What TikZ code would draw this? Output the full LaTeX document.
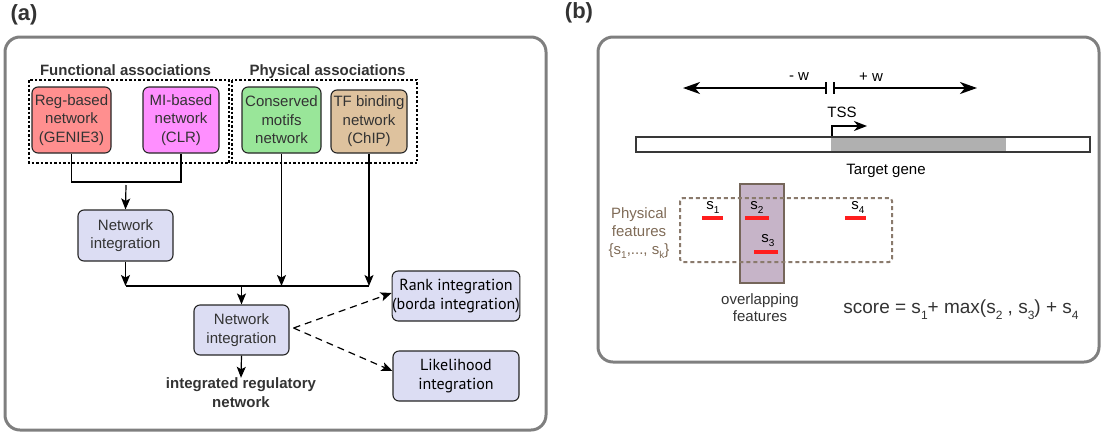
\documentclass[tikz,border=0pt]{standalone}
\usepackage{fontspec}
\setmainfont{Liberation Sans}
\newfontfamily\myr{PT Sans}
\usetikzlibrary{arrows.meta,calc}
\definecolor{panelgray}{HTML}{7F7F7F}
\definecolor{regred}{HTML}{FF8F8F}
\definecolor{mimag}{HTML}{FF8FFF}
\definecolor{consgreen}{HTML}{99E699}
\definecolor{tftan}{HTML}{DEC29E}
\definecolor{lav}{HTML}{DCDDF3}
\definecolor{txtdark}{HTML}{333333}
\definecolor{brownish}{HTML}{7F6B57}
\definecolor{dashbrown}{HTML}{8A7A6C}
\definecolor{purp}{HTML}{C6B4C8}
\definecolor{purpedge}{HTML}{75665A}
\definecolor{genegray}{HTML}{B0B0B0}
\definecolor{barred}{HTML}{FF1E1E}
\newcommand\lsub[1]{\raisebox{-4pt}{\fontsize{10}{10}\selectfont #1}}
\newcommand\bsub[1]{\raisebox{-6pt}{\fontsize{12}{12}\selectfont #1}}
\begin{document}
\begin{tikzpicture}[x=1pt,y=-1pt,
  panel/.style={draw=panelgray, line width=3pt, rounded corners=15pt},
  box/.style={draw=black!85, line width=1.1pt, rounded corners=6pt, align=center,
    inner sep=0pt, font=\fontsize{15}{18.5}\selectfont, text=txtdark},
  grp/.style={draw=black, line width=1.6pt, dash pattern=on 2.5pt off 2pt},
  arr/.style={-{Stealth[length=11pt,width=9pt,inset=2.5pt]}, line width=1.2pt},
  darr/.style={arr, dash pattern=on 7pt off 5pt},
  barr/.style={-{Stealth[length=17pt,width=12pt,inset=5pt]}, line width=2pt},
  lbl/.style={inner sep=0pt, font=\fontsize{15}{18}\selectfont, align=center},
  hd/.style={inner sep=0pt, font=\bfseries\fontsize{15}{18}\selectfont, text=txtdark, align=center},
  redbar/.style={draw=barred, line width=4pt}
]
\useasboundingbox (0,0) rectangle (1102,432);

% panel labels
\node[inner sep=0pt, font=\bfseries\fontsize{22}{22}\selectfont, text=txtdark] (la) at (24,15) {(a)};
\node[inner sep=0pt, font=\bfseries\fontsize{22}{22}\selectfont, text=txtdark] (lb) at (579,13) {(b)};

% panels
\draw[panel] (5,37) rectangle (546,430);
\draw[panel] (598,37) rectangle (1099,362);

% ---------- panel (a)
\node[hd] (fa) at (125.5,70) {Functional associations};
\node[hd] (pa) at (327.5,72) {Physical associations};
\draw[grp] (29,80) rectangle (229,163);
\draw[grp] (232,80) rectangle (417,163);

\node[box, fill=regred, minimum width=79pt, minimum height=66pt] (reg) at (71.5,120) {Reg-based\\network\\(GENIE3)};
\node[box, fill=mimag, minimum width=76pt, minimum height=66pt] (mi) at (181,120) {MI-based\\network\\(CLR)};
\node[box, fill=consgreen, minimum width=79pt, minimum height=66pt] (cons) at (281.5,120) {Conserved\\motifs\\network};
\node[box, fill=tftan, minimum width=76pt, minimum height=63pt] (tf) at (369,121.5) {TF binding\\network\\(ChIP)};

\node[box, fill=lav, minimum width=95pt, minimum height=51pt] (ni1) at (125.5,235.5) {Network\\integration};
\node[box, fill=lav, minimum width=95pt, minimum height=50pt] (ni2) at (241.5,330) {Network\\integration};
\node[box, fill=lav, minimum width=126pt, minimum height=50pt, font=\myr\fontsize{16}{19}\selectfont, text=black] (rank) at (456,296) {Rank integration\\(borda integration)};
\node[box, fill=lav, minimum width=126pt, minimum height=50pt, font=\myr\fontsize{16}{19}\selectfont, text=black] (like) at (456,376) {Likelihood\\integration};
\node[hd, font=\bfseries\fontsize{15}{19}\selectfont] (out) at (241,393) {integrated regulatory\\network};

\coordinate (fj) at (126,182);
\coordinate (bus) at (0,286);
\draw[line width=1.2pt] (reg.south) -- (reg.south |- fj) -- (mi.south |- fj) -- (mi.south);
\draw[arr] ([yshift=-3pt]fj) -- (ni1.north);
\draw[arr] (ni1.south) -- (ni1.south |- bus);
\draw[line width=1.2pt] (ni1.south |- bus) -- (tf.south |- bus);
\draw[arr] (cons.south) -- (cons.south |- bus);
\draw[arr] (tf.south) -- (tf.south |- bus);
\draw[arr] (ni2.north |- bus) -- (ni2.north);
\draw[arr] (ni2.south) -- (out.north);
\coordinate (ds) at ($(ni2.east)+(4,-2)$);
\draw[darr] (ds) -- ($(rank.west)+(0,-3)$);
\draw[darr] (ds) -- ($(like.west)+(0,-5)$);

% ---------- panel (b)
\coordinate (tl) at (826,88);
\coordinate (tr) at (834,88);
\draw[barr] (tl) -- (683,88);
\draw[barr] (tr) -- (977,88);
\draw[line width=2pt] (826,82) -- (826,94);
\draw[line width=2pt] (834,82) -- (834,94);
\node[lbl] (mw) at (799,77) {- w};
\node[lbl] (pw) at (871,77) {+ w};
\node[lbl] (tss) at (842,112) {TSS};

\fill[white] (636,137) rectangle (1090,152);
\fill[genegray] (831,137) rectangle (1006,152);
\draw[draw=black!78, line width=2.5pt] (636,137) rectangle (1090,152);
\draw[line width=2pt, -{Stealth[length=13pt,width=10pt,inset=4pt]}] (832,136) -- (832,126) -- (867,126);
\node[lbl] (tg) at (886,171) {Target gene};

\draw[fill=purp, draw=purpedge, line width=2pt] (740,184) rectangle (784,283);
\draw[draw=dashbrown, line width=2pt, dash pattern=on 4pt off 3pt, rounded corners=3pt] (680,198) rectangle (892,262);

\draw[redbar] (702,218) -- (723,218);
\draw[redbar] (745,218) -- (769,218);
\draw[redbar] (845,218) -- (866,218);
\draw[redbar] (754,252) -- (778,252);
\node[lbl] (s1) at (713,207) {s\lsub{1}};
\node[lbl] (s2) at (757,207) {s\lsub{2}};
\node[lbl] (s4) at (858,207) {s\lsub{4}};
\node[lbl] (s3) at (768,241) {s\lsub{3}};

\node[lbl, text=brownish, font=\fontsize{15}{18}\selectfont] (pf) at (639,233) {Physical\\features\\\{s\lsub{1},..., s\lsub{k}\}};
\node[lbl, text=txtdark, font=\fontsize{15}{17}\selectfont] (ov) at (760,308) {overlapping\\features};
\node[lbl, text=txtdark, font=\fontsize{19}{19}\selectfont] (sc) at (961,310)
  {score = s\bsub{1}+ max(s\bsub{2} , s\bsub{3}) + s\bsub{4}};
\end{tikzpicture}
\end{document}
